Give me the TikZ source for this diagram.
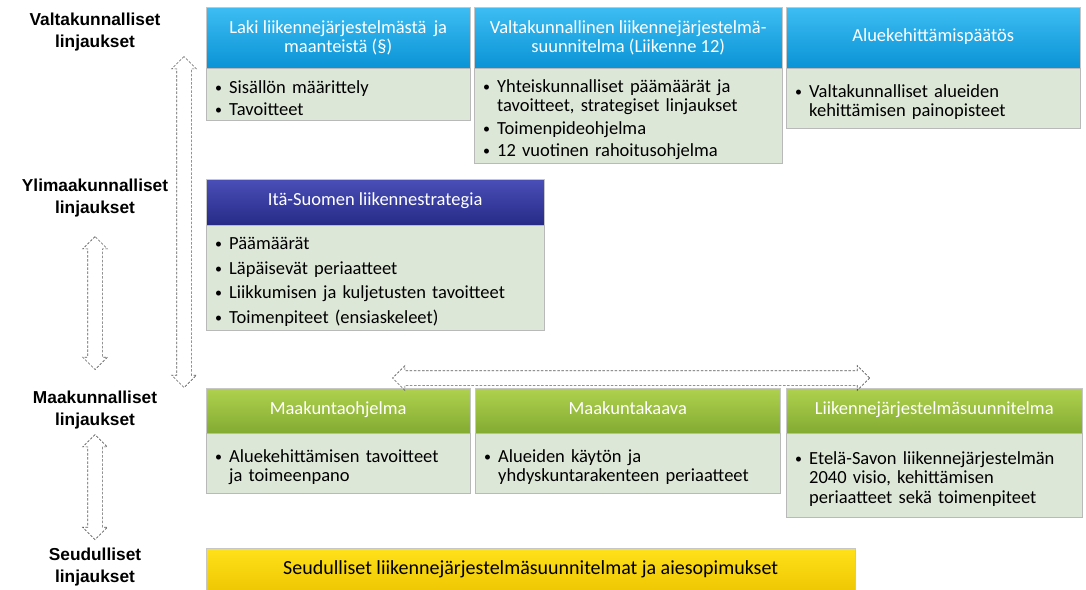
\documentclass[tikz,border=0pt]{standalone}
\usepackage{fontspec}
\setmainfont{Carlito}
\newfontfamily\levelfont{Liberation Sans}
\usepackage{enumitem}
\usetikzlibrary{positioning,shapes.arrows}

\definecolor{blueTop}{HTML}{3DBDF2}
\definecolor{blueBot}{HTML}{0A93D6}
\definecolor{navyTop}{HTML}{4A4FB8}
\definecolor{navyBot}{HTML}{262A86}
\definecolor{greenTop}{HTML}{AFD14E}
\definecolor{greenBot}{HTML}{83AB32}
\definecolor{yellowTop}{HTML}{FFE11A}
\definecolor{yellowBot}{HTML}{EDC600}
\definecolor{bodyFill}{HTML}{DDE7D7}

\newenvironment{bullets}[1][3pt]{%
    \begin{itemize}[leftmargin=13pt,labelsep=7pt,nosep,itemsep=#1,
        label=\raisebox{.05em}{\fontsize{14}{14}\selectfont\textbullet}]}%
    {\end{itemize}}

\begin{document}
\begin{tikzpicture}[x=1pt,y=-1pt,
    node distance=0pt,
    level/.style={font=\levelfont\bfseries\fontsize{17.3}{22}\selectfont, align=center},
    head/.style={anchor=north west, draw=gray!45, inner sep=4pt, align=center,
        text=white, font=\fontsize{18.5}{19}\selectfont},
    oneline/.style={text height=.9em, text depth=.22em},
    blue/.style={head, top color=blueTop, bottom color=blueBot},
    navy/.style={head, oneline, top color=navyTop, bottom color=navyBot},
    green/.style={head, oneline, top color=greenTop, bottom color=greenBot},
    yellow/.style={head, oneline, top color=yellowTop, bottom color=yellowBot, text=black,
        font=\fontsize{20}{22}\selectfont},
    body/.style={below=of #1, draw=gray!55, fill=bodyFill, inner xsep=10pt,
        font=\fontsize{18.5}{19.5}\selectfont},
    darrow/.style={shape=double arrow, draw=gray!70!black, line width=0.7pt,
        dash pattern=on 2.5pt off 1.6pt, inner xsep=0pt, inner ysep=7pt,
        minimum width=0pt, double arrow head extend=5pt}]
    \useasboundingbox (0,0) rectangle (1086,589);

    % tasot
    \node[level] (lvNat) at (95,32) {Valtakunnalliset\\linjaukset};
    \node[level] (lvYli) at (95,198) {Ylimaakunnalliset\\linjaukset};
    \node[level] (lvMaa) at (95,410) {Maakunnalliset\\linjaukset};
    \node[level] (lvSeu) at (95,567) {Seudulliset\\linjaukset};

    % valtakunnalliset
    \node[blue, minimum width=264pt, minimum height=61pt] (hLaki) at (206,7)
        {Laki liikennejärjestelmästä\, ja\\maanteistä (§)};
    \node[body=hLaki, minimum width=264pt, minimum height=52pt, text width=244pt] (bLaki) {%
        \begin{bullets}
            \item Sisällön määrittely
            \item Tavoitteet
        \end{bullets}};
    \node[blue, minimum width=308pt, minimum height=61pt] (hLvs) at (474,7)
        {Valtakunnallinen liikennejärjestelmä-\\suunnitelma (Liikenne 12)};
    \node[body=hLvs, minimum width=308pt, minimum height=95pt, text width=288pt] (bLvs) {%
        \begin{bullets}
            \item Yhteiskunnalliset päämäärät ja\newline tavoitteet, strategiset linjaukset
            \item Toimenpideohjelma
            \item 12 vuotinen rahoitusohjelma
        \end{bullets}};
    \node[blue, oneline, minimum width=294pt, minimum height=61pt] (hAlue) at (786,7)
        {Aluekehittämispäätös};
    \node[body=hAlue, minimum width=294pt, minimum height=60pt, text width=274pt] (bAlue) {%
        \begin{bullets}
            \item Valtakunnalliset alueiden\newline kehittämisen painopisteet
        \end{bullets}};

    % ylimaakunnalliset
    \node[navy, minimum width=338pt, minimum height=46pt] (hIta) at (206,179)
        {Itä-Suomen liikennestrategia};
    \node[body=hIta, minimum width=338pt, minimum height=105pt, text width=318pt] (bIta) {%
        \begin{bullets}[5pt]
            \item Päämäärät
            \item Läpäisevät periaatteet
            \item Liikkumisen ja kuljetusten tavoitteet
            \item Toimenpiteet (ensiaskeleet)
        \end{bullets}};

    % maakunnalliset
    \node[green, minimum width=264pt, minimum height=45pt] (hOhj) at (206,388)
        {Maakuntaohjelma};
    \node[body=hOhj, minimum width=264pt, minimum height=60pt, text width=244pt] (bOhj) {%
        \begin{bullets}
            \item Aluekehittämisen tavoitteet\newline ja toimeenpano
        \end{bullets}};
    \node[green, minimum width=305pt, minimum height=45pt] (hKaava) at (475,388)
        {Maakuntakaava};
    \node[body=hKaava, minimum width=305pt, minimum height=60pt, text width=285pt] (bKaava) {%
        \begin{bullets}
            \item Alueiden käytön ja\newline yhdyskuntarakenteen periaatteet
        \end{bullets}};
    \node[green, minimum width=296pt, minimum height=45pt] (hLjs) at (786,388)
        {Liikennejärjestelmäsuunnitelma};
    \node[body=hLjs, minimum width=296pt, minimum height=84pt, text width=276pt] (bLjs) {%
        \begin{bullets}
            \item Etelä-Savon liikennejärjestelmän\newline 2040 visio, kehittämisen\newline periaatteet sekä toimenpiteet
        \end{bullets}};

    % seudulliset
    \node[yellow, minimum width=649pt, minimum height=46pt] (hSeu) at (206,548)
        {Seudulliset liikennejärjestelmäsuunnitelmat ja aiesopimukset};

    % katkoviivanuolet
    \node[darrow, rotate=90, minimum height=331pt] (aNat) at (184,222) {};
    \node[darrow, rotate=90, minimum height=133pt] (aYli) at (95,303) {};
    \node[darrow, rotate=90, minimum height=105pt] (aMaa) at (95,487) {};
    \node[darrow, minimum height=477pt] (aHz) at (631,378) {};
\end{tikzpicture}
\end{document}
